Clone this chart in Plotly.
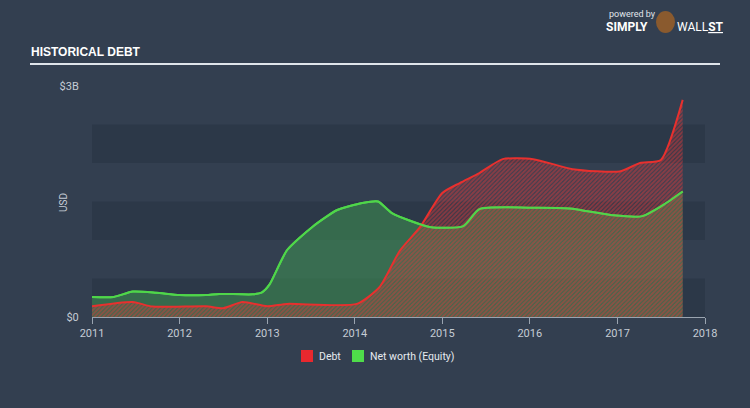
import plotly.graph_objects as go

# ---- data (values in USD billions) ----
equity_dates = ["2011-01-01", "2011-04-01", "2011-06-20", "2011-09-25", "2012-01-01",
                "2012-04-20", "2012-06-15", "2012-11-01", "2012-12-10", "2013-01-10",
                "2013-03-25", "2013-07-08", "2013-10-20", "2014-02-01", "2014-04-08",
                "2014-06-05", "2014-11-10", "2015-03-30", "2015-06-05", "2016-01-01",
                "2016-06-15", "2016-12-15", "2017-04-15", "2017-07-08", "2017-09-30"]
equity_vals = [0.26, 0.26, 0.33, 0.315, 0.285,
               0.285, 0.30, 0.295, 0.32, 0.42,
               0.87, 1.17, 1.39, 1.48, 1.50,
               1.35, 1.17, 1.18, 1.40, 1.42,
               1.41, 1.32, 1.31, 1.45, 1.63]

debt_dates = ["2011-01-01", "2011-06-20", "2011-09-10", "2012-04-20", "2012-07-01",
              "2012-09-20", "2013-01-01", "2013-03-25", "2014-01-10", "2014-04-15",
              "2014-07-08", "2014-10-01", "2015-01-01", "2015-03-15", "2015-06-05",
              "2015-09-10", "2016-01-15", "2016-06-28", "2017-01-10", "2017-04-05",
              "2017-07-01", "2017-09-30"]
debt_vals = [0.14, 0.195, 0.135, 0.14, 0.115,
             0.195, 0.14, 0.17, 0.17, 0.39,
             0.86, 1.17, 1.61, 1.74, 1.87,
             2.05, 2.05, 1.92, 1.89, 2.00,
             2.04, 2.82]

year_ticks = ["2011", "2012", "2013", "2014", "2015", "2016", "2017", "2018"]
y_tick_vals = [0, 3e9]
y_tick_text = ["$0", "$3B"]
legend_names = ["Debt", "Net worth (Equity)"]
legend_colors = ["#e8282e", "#4fdc4a"]

B = 1e9
BG = "#333f50"
BAND = "#2c3848"
TXT = "#c5ccd5"

W, H = 750, 408
ML, MR, MT, MB = 92, 45, 86, 91
PW, PH = W - ML - MR, H - MT - MB


def px(x):
    return (x - ML) / PW


def py(y):
    return 1 - (y - MT) / PH


eq_y = [v * B for v in equity_vals]
debt_y = [v * B for v in debt_vals]
eq_line = dict(color="#4fd64a", width=2, shape="spline", smoothing=0.6)

fig = go.Figure()

fig.add_trace(go.Scatter(
    x=equity_dates, y=eq_y, mode="lines", line=eq_line,
    fill="tozeroy", fillcolor="rgba(62,140,82,0.6)", showlegend=False,
    hoverinfo="skip"))

fig.add_trace(go.Scatter(
    x=debt_dates, y=debt_y, mode="lines",
    line=dict(color="#e8302e", width=2, shape="spline", smoothing=0.6),
    fill="tozeroy", fillcolor="rgba(0,0,0,0)",
    fillpattern=dict(shape="/", fgcolor="#dc3a3c", bgcolor="rgba(0,0,0,0)",
                     size=3, solidity=0.7),
    showlegend=False, hoverinfo="skip"))

# equity line redrawn on top of the hatch
fig.add_trace(go.Scatter(
    x=equity_dates, y=eq_y, mode="lines", line=eq_line,
    showlegend=False, hoverinfo="skip"))

shapes = []
for lo, hi in [(0, 0.5), (1.0, 1.5), (2.0, 2.5)]:
    shapes.append(dict(type="rect", xref="paper", yref="y", x0=0, x1=1,
                       y0=lo * B, y1=hi * B, fillcolor=BAND, line_width=0, layer="below"))
# title underline
shapes.append(dict(type="line", xref="paper", yref="paper", x0=px(30), x1=px(720),
                   y0=py(64), y1=py(64), line=dict(color="#dfe4ea", width=2)))
# mascot badge
shapes.append(dict(type="circle", xref="paper", yref="paper", x0=px(656), x1=px(675),
                   y0=py(33), y1=py(11), fillcolor="#8a5a2e", line_width=0))

annotations = [
    dict(text="<b>HISTORICAL DEBT</b>", xref="paper", yref="paper", x=px(29), y=py(52),
         xanchor="left", yanchor="middle", showarrow=False,
         font=dict(family="Liberation Sans Narrow, Arial Narrow, sans-serif", size=12, color="#ffffff")),
    dict(text="powered by", xref="paper", yref="paper", x=px(607), y=py(14),
         xanchor="left", yanchor="middle", showarrow=False,
         font=dict(family="Roboto, sans-serif", size=9, color="#e0e4ea")),
    dict(text="<b>SIMPLY</b>", xref="paper", yref="paper", x=px(604), y=py(27),
         xanchor="left", yanchor="middle", showarrow=False,
         font=dict(family="Roboto, sans-serif", size=12, color="#ffffff")),
    dict(text="WALL<b><u>ST</u></b>", xref="paper", yref="paper", x=px(675), y=py(27),
         xanchor="left", yanchor="middle", showarrow=False,
         font=dict(family="Roboto, sans-serif", size=12, color="#ffffff")),
    dict(text="USD", xref="paper", yref="paper", x=px(63), y=py(203),
         xanchor="center", yanchor="middle", textangle=-90, showarrow=False,
         font=dict(size=10, color=TXT)),
]

# legend (manual, to match compact spacing)
leg_sq_x = [301, 352]
leg_txt_x = [317, 368]
for name, col, sx, tx in zip(legend_names, legend_colors, leg_sq_x, leg_txt_x):
    shapes.append(dict(type="rect", xref="paper", yref="paper", x0=px(sx), x1=px(sx + 12),
                       y0=py(362), y1=py(350), fillcolor=col, line_width=0))
    annotations.append(dict(text=name, xref="paper", yref="paper", x=px(tx), y=py(356),
                            xanchor="left", yanchor="middle", showarrow=False,
                            font=dict(size=10.5, color="#e6eaef")))

fig.update_layout(
    width=W, height=H,
    margin=dict(l=ML, r=MR, t=MT, b=MB),
    paper_bgcolor=BG, plot_bgcolor=BG,
    font=dict(family="Roboto, sans-serif", color=TXT, size=11),
    shapes=shapes, annotations=annotations,
    showlegend=False,
    xaxis=dict(type="date", range=["2011-01-01", "2018-01-01"],
               tickvals=[y + "-01-01" for y in year_ticks], ticktext=year_ticks,
               showgrid=False, zeroline=False, showline=True, linecolor="#9aa4b0", linewidth=1,
               ticks="outside", ticklen=6, tickcolor="#9aa4b0",
               tickfont=dict(size=11, color=TXT)),
    yaxis=dict(range=[0, 3 * B], tickvals=y_tick_vals, ticktext=y_tick_text,
               showgrid=False, zeroline=False, showline=False,
               ticks="outside", ticklen=10, tickcolor="rgba(0,0,0,0)",
               tickfont=dict(size=11, color=TXT)),
)

fig.write_html("out.html")
